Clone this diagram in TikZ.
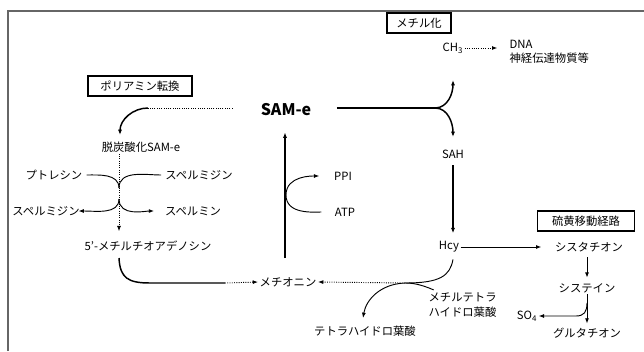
\documentclass[tikz,border=0pt]{standalone}
\usepackage{fontspec}
\setmainfont{Noto Sans CJK JP}
\usetikzlibrary{arrows.meta,calc}
\tikzset{
lbl/.style={inner sep=1pt,font=\fontsize{8.5}{10}\selectfont},
tagbox/.style={draw=black,line width=0.8pt,minimum height=15pt,inner sep=2pt,font=\fontsize{8.5}{10}\selectfont},
bigname/.style={inner sep=1pt,font=\fontsize{12}{14}\selectfont\bfseries},
frame/.style={draw=black!60,line width=0.9pt},
mainline/.style={black,line width=1.1pt},
mainarrow/.style={-{Latex[length=4pt,width=3pt]},black,line width=1.1pt},
thinline/.style={black,line width=0.7pt},
thinarrow/.style={-{Latex[length=4pt,width=3pt]},black,line width=0.7pt},
dotline/.style={black,line width=0.7pt,densely dotted},
dotarrow/.style={-{Latex[length=4pt,width=3pt]},black,line width=0.7pt,densely dotted}
}
\begin{document}
\begin{tikzpicture}[x=0.75pt,y=-0.75pt,every node/.style={lbl}]
\useasboundingbox (0,0) rectangle (644,351);
\draw[frame] (8,351) -- (8,11) -- (644,11);
\node[tagbox,minimum width=48pt] (metbox) at (419,23) {メチル化};
\node[tagbox,minimum width=78pt] (polybox) at (140,86) {ポリアミン転換};
\node[tagbox,minimum width=73pt] (sulbox) at (586,221) {硫黄移動経路};
\node (ch3) at (453,48) {CH\textsubscript{3}};
\node[anchor=west] (dna) at (508,44) {DNA};
\node[anchor=west] (neuro) at (508,58) {神経伝達物質等};
\node[bigname] (same) at (286,110) {SAM-e};
\node (sah) at (453,154) {SAH};
\node (hcy) at (449,247) {Hcy};
\node (cysta) at (589,247) {シスタチオン};
\node (cys) at (587,288) {システイン};
\node (so4) at (527,316) {SO\textsubscript{4}};
\node (glu) at (587,333) {グルタチオン};
\node (met) at (288,282) {メチオニン};
\node[anchor=west,align=left,font=\fontsize{8.5}{11}\selectfont] (mthf) at (427,305) {メチルテトラ\\ハイドロ葉酸};
\node (thf) at (365,331) {テトラハイドロ葉酸};
\node (ppi) at (343,176) {PPI};
\node (atp) at (345,212) {ATP};
\node (dcsam) at (141,147) {脱炭酸化SAM-e};
\node (put) at (54,175) {プトレシン};
\node (spd1) at (199,175) {スペルミジン};
\node (spd2) at (46,211) {スペルミジン};
\node (spm) at (193,211) {スペルミン};
\node (mta) at (148,246) {5'-メチルチオアデノシン};
\coordinate (fork) at (435,108);
\coordinate (ch3in) at (453,80);
\coordinate (sahin) at (453,137);
\coordinate (folj) at (405,283);
\coordinate (thfin) at (363,318);
\coordinate (cysj) at (587,303);
\coordinate (cycbot) at (285,258);
\coordinate (cycmid) at (286,195);
\coordinate (polyj) at (148,108);
\coordinate (dcin) at (120,135);
\coordinate (spine) at (119,0);
\coordinate (jin) at (119,188);
\coordinate (jout) at (119,199);
\coordinate (mtaout) at (119,258);
\coordinate (mtadot) at (225,283);
\draw[mainline,shorten <=18pt] (fork -| same.east) -- (fork);
\draw[mainarrow] (fork) to[out=0,in=-90] (ch3in);
\draw[mainarrow] (fork) to[out=0,in=90] (sahin);
\draw[dotarrow,shorten >=8pt] (ch3.east) -- (ch3.east -| dna.west);
\draw[mainarrow,shorten <=4pt,shorten >=5pt] (sah.south) -- (sah.south |- hcy.north);
\draw[thinarrow,shorten >=9pt] (hcy.east) -- (cysta.west);
\draw[thinarrow,shorten <=3pt,shorten >=3pt] (cys.north |- cysta.south) -- (cys.north);
\draw[thinarrow,shorten >=2pt] (cys.south) -- (cys.south |- glu.north);
\draw[thinarrow] (cysj) .. controls (587,312) and (584,316) .. (576,316) -- (so4.east);
\draw[thinline] ([xshift=3pt,yshift=-4pt]hcy.south) .. controls (450,276) and (440,283) .. (folj);
\draw[dotarrow] (folj) -- (met.east);
\draw[thinarrow] ([xshift=5pt,yshift=1pt]mthf.north west) .. controls (420,284) and (412,283) .. (folj) .. controls (380,284) and (366,300) .. (thfin);
\draw[mainline] (mtaout) .. controls (120,278) and (128,283) .. (150,283) -- (mtadot);
\draw[dotarrow] (mtadot) -- (met.west);
\draw[mainarrow,shorten >=11pt] (cycbot) -- (cycbot |- same.south);
\draw[thinarrow,shorten <=9pt,shorten >=10pt] (atp.west) to[out=180,in=-90] (cycmid) to[out=90,in=180] (ppi.west);
\draw[dotline,shorten <=20pt] (polyj -| same.west) -- (polyj);
\draw[mainarrow] (polyj) to[out=180,in=90] (dcin);
\draw[dotarrow,shorten >=6pt] (spine |- dcsam.south) -- (spine |- mta.north);
\draw[thinline,shorten <=2pt] (put.east) to[out=0,in=90] (jin);
\draw[thinline,shorten <=2pt] (spd1.west) to[out=180,in=90] (jin);
\draw[thinarrow,shorten >=-2pt] (jout) to[out=-90,in=0] (spd2.east);
\draw[thinarrow,shorten >=7pt] (jout) to[out=-90,in=180] (spm.west);
\end{tikzpicture}
\end{document}
